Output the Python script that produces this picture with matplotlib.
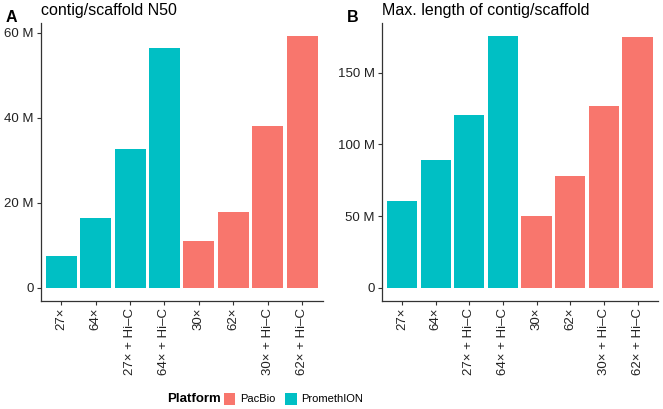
import matplotlib
matplotlib.use('Agg')
import matplotlib.pyplot as plt
from matplotlib.patches import Patch
from matplotlib.ticker import FuncFormatter

plt.rcParams['font.family'] = ['Liberation Sans', 'DejaVu Sans']

# data (values in millions)
labels = ['27×', '64×', '27× + Hi–C', '64× + Hi–C',
          '30×', '62×', '30× + Hi–C', '62× + Hi–C']
platform = ['PromethION'] * 4 + ['PacBio'] * 4
n50 = [7.5, 16.5, 32.6, 56.4, 11.0, 17.8, 38.0, 59.4]
maxlen = [60.5, 88.8, 120.8, 175.8, 49.8, 78.1, 127.0, 174.6]

colors = {'PacBio': '#F8766D', 'PromethION': '#00BFC4'}

def fmt_m(v, pos):
    if abs(v) < 1e-9:
        return '0'
    return '%d M' % round(v)

fig = plt.figure(figsize=(6.63, 4.09), dpi=100)
axA = fig.add_axes([0.0611, 0.265, 0.4259, 0.679])
axB = fig.add_axes([0.576, 0.265, 0.416, 0.679])

panels = [(axA, n50, 'A', 'contig/scaffold N50', [0, 20, 40, 60]),
          (axB, maxlen, 'B', 'Max. length of contig/scaffold', [0, 50, 100, 150])]

for ax, vals, letter, title, yt in panels:
    x = list(range(len(labels)))
    ax.bar(x, vals, width=0.9, color=[colors[p] for p in platform])
    top = max(vals)
    ax.set_ylim(-0.05 * top, 1.05 * top)
    ax.set_xlim(-0.6, len(labels) - 0.4)
    ax.set_yticks(yt)
    ax.yaxis.set_major_formatter(FuncFormatter(fmt_m))
    ax.set_xticks(x)
    ax.set_xticklabels(labels, rotation=90)
    for s in ['top', 'right']:
        ax.spines[s].set_visible(False)
    for s in ['left', 'bottom']:
        ax.spines[s].set_color('#333333')
        ax.spines[s].set_linewidth(0.9)
    ax.tick_params(axis='both', length=3, width=0.8, color='#333333',
                   labelsize=9.5, labelcolor='#222222', pad=2)
    ax.set_title(title, loc='left', fontsize=11.5, pad=6)
    pos = ax.get_position()
    fig.text(pos.x0 - 0.053, 0.975, letter, fontsize=11.5, fontweight='bold',
             va='top', ha='left')

# legend at the bottom: title on the left, keys to its right
fig.text(221 / 663, 0.025, 'Platform', fontsize=9.5, fontweight='bold',
         ha='right', va='center')
handles = [Patch(facecolor=colors['PacBio'], label='PacBio'),
           Patch(facecolor=colors['PromethION'], label='PromethION')]
fig.legend(handles=handles, loc='center left',
           bbox_to_anchor=(224 / 663, 0.025), ncol=2, frameon=False,
           fontsize=8, handlelength=1.0, handleheight=1.3,
           handletextpad=0.45, columnspacing=0.9, borderaxespad=0,
           borderpad=0)

fig.savefig('out.png', dpi=100)
